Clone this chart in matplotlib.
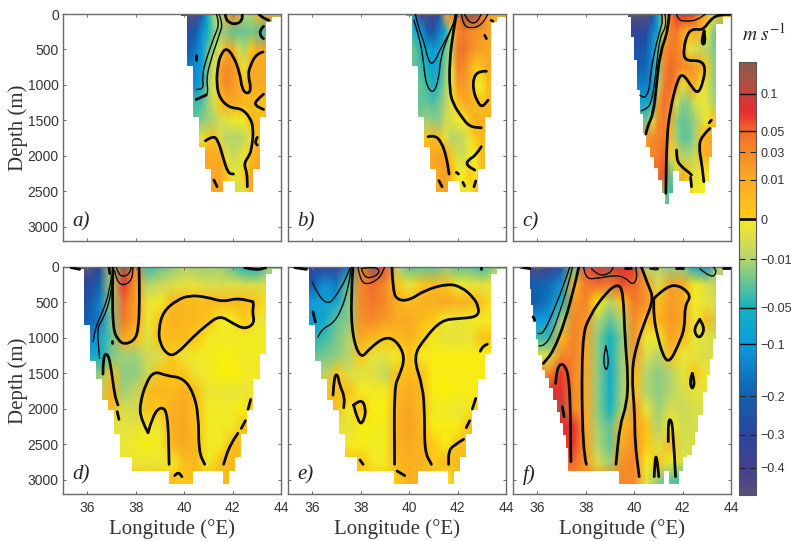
import matplotlib
matplotlib.use('Agg')
import matplotlib.pyplot as plt
import numpy as np
from matplotlib.cm import ScalarMappable
from matplotlib.colors import FuncNorm, LinearSegmentedColormap
from matplotlib.patches import PathPatch, Polygon
from matplotlib.path import Path

plt.rcParams['mathtext.fontset'] = 'stix'

# colour scale, velocities in m/s
cbar_values = [-0.5, -0.4, -0.3, -0.2, -0.1, -0.05, -0.01, 0, 0.01, 0.03, 0.05, 0.1, 0.2]
cbar_pos = [0, 0.0624, 0.1386, 0.2286, 0.3487, 0.4319, 0.545, 0.6374, 0.7275, 0.792, 0.8406, 0.9261, 1]
cmap_stops = [(0, '#5a4f7c'), (0.0624, '#42408f'), (0.1386, '#2b469c'), (0.2286, '#125fae'),
              (0.3487, '#0d9cdc'), (0.4319, '#14b2bf'), (0.545, '#b4d470'), (0.6, '#dfe045'),
              (0.625, '#eee832'), (0.6374, '#fdf000'), (0.6374, '#fdcb16'), (0.7275, '#f9a924'),
              (0.792, '#f58a28'), (0.8406, '#f06a2c'), (0.885, '#e92b30'), (0.9261, '#c8403c'),
              (0.96, '#a65446'), (1, '#8a5a50')]
tick_values = [0.1, 0.05, 0.03, 0.01, 0, -0.01, -0.05, -0.1, -0.2, -0.3, -0.4]
tick_labels = ['0.1', '0.05', '0.03', '0.01', '0', '\u22120.01', '\u22120.05', '\u22120.1',
               '\u22120.2', '\u22120.3', '\u22120.4']
xticks = [36, 38, 40, 42, 44]
yticks = [0, 500, 1000, 1500, 2000, 2500, 3000]

# velocity fields in cm/s, rows are depth, columns are longitude
top_lon = [40, 40.25, 40.5, 40.75, 41, 41.25, 41.5, 41.75, 42, 42.25, 42.5, 42.75, 43, 43.25, 43.5]
top_depth = [0, 250, 500, 750, 1000, 1250, 1500, 1750, 2000, 2250, 2500]
low_lon = [36, 36.5, 37, 37.5, 38, 38.5, 39, 39.5, 40, 40.5, 41, 41.5, 42, 42.5, 43, 43.5]
low_depth = [0, 250, 500, 750, 1000, 1250, 1500, 1750, 2000, 2250, 2500, 2750, 3000]

field_a = [
    [-40, -50, -45, -20, -5, -1, -1, 1, 3, 1, -1, -1, .5, 1, 1],
    [-25, -25, -20, -12, -5, -2, -2, -2, -3, -3, -3, -2.5, -3, -4, -4],
    [-20, -20, -15, -10, -3, -1, -.3, 1, 1, -.5, -1, .1, 1, 1, 1],
    [-15, -15, -12, -9, -2, -.3, 1.5, 3, 2.5, .5, -.2, 1, 1, 1, 1],
    [-15, -12, -12, -6, -1.5, -.3, 1.5, 3, 2, 1, .3, 1, 1, 1, 1],
    [-3, -3, -4, -3.5, -1.5, -.5, .3, 1, 1, 1, .5, .5, .1, .3, .3],
    [-3, -3, -3, -2, -1.5, -1, -.5, -.3, -.2, -.1, -.1, .5, .5, .5, .5],
    [-.3, -.3, -.3, -.3, .1, .3, -.5, -1, -1, -1, -.8, -.2, .5, .5, .5],
    [1, 1, 1, 1, 1, 1, 1, -.3, -.7, -.5, -.1, .3, 1, 1, 1],
    [1, 1, 1, 1, 1, 1, 1, .1, -.2, -.3, .1, 1, 1, 1, 1],
    [1, 1, 1, 1, 1, 1, 1.5, .2, .1, -.5, -.3, 1, 1, 1, 1],
]
field_b = [
    [-3, -15, -40, -45, -40, -25, 2, 3, 4, 15, 20, 15, 5, 1.5, 1],
    [-3, -7, -10, -20, -25, -15, -8, -.5, 3, 4, 3, 2.5, 2, 1.5, 1],
    [-3, -3, -5, -7, -10, -7, -3, -1, 4, 4.5, 3, 2, 1.5, 1, 1],
    [-3, -3, -4, -6, -8, -6, -2, -.3, 3.5, 3, 1, .1, .3, 1, 1],
    [-3, -3, -3, -4, -6, -4, -1.5, -.2, 2, 2, 1, -.1, -.1, .5, .5],
    [-3, -3, -3, -3, -3.5, -2.5, -1, -.3, .2, 1, 1, .5, .2, .5, .5],
    [-2, -2, -2, -1.5, -2, -2, -.7, -.4, -.1, -.1, .2, .8, .8, .8, .8],
    [.1, .1, .1, .1, .5, .3, -.3, -1, -1, -.7, -.2, .1, .5, .5, .5],
    [1, 1, 1, 1, 1, 1.5, 1.5, .1, -.5, -.6, -.1, -.1, .5, .5, .5],
    [1, 1, 1, 1, 1, 1, 1.5, .5, -.1, -.1, .1, -.1, .5, .5, .5],
    [1, 1, 1, 1, 1, 1, 1.5, .5, -.1, -.2, -.1, .3, .5, .5, .5],
]
field_c = [
    [-50, -50, -50, -30, -8, -1, 3, 7, 9, 8, 6, 3, 1.5, -.2, .5],
    [-35, -30, -30, -15, -7, .3, 3.5, 4, 1.5, .5, 1, .5, -.1, -2, -3],
    [-25, -25, -20, -12, -3, 2.5, 4, 3.5, 2, -.3, -.5, -.7, -1, -2, -3],
    [-20, -20, -18, -12, -2, 3, 5, 4, 3, 3, 2, 1.5, .1, -1.5, -2],
    [-15, -15, -15, -11, -1, 4, 5, 2, -.3, .5, 1, -.1, -.5, -1.5, -2],
    [-8, -8, -8, -5, 2, 4.5, 3, -.5, -2, -2, -.5, -.3, -.3, -1, -1],
    [-3, -3, -3, -.5, 3, 4, 1, -2, -3, -2.5, -1.5, -.7, -.1, .2, .2],
    [1.5, 1.5, 1.5, 3, 3.5, 4, .5, -1.5, -3, -3, -1.5, .3, 1, 1, 1],
    [3, 3, 3, 3, 4, 5, -.5, .2, -1, -1, -.7, .5, 1, 1, 1],
    [5, 5, 5, 5, 5, 6, -3, -.5, .7, .2, -.5, -.1, -.1, -.1, -.1],
    [7, 7, 7, 7, 7, -2, -4, -4, 1, .2, -.1, -.1, -.1, -.1, -.1],
]
field_d = [
    [-50, -30, -1, 20, 3, -4, -3, -2, -1, -1.5, -1.5, -1.5, -3, -5, -7, -2],
    [-30, -20, -1, 7, 2, -1, -.7, -.5, -.3, -.3, -.5, -.5, -.4, -.5, -.5, -.5],
    [-25, -15, -2, 5, 1.5, -.2, -.1, .5, .6, .5, .5, .5, .5, .5, .1, -.1],
    [-20, -15, -2.5, 4, 1.5, -.2, .2, .8, .6, .5, .2, -.1, -.1, .1, -.2, -.2],
    [-15, -9, -3, 1, .3, -.4, .3, .5, .5, .1, -.1, -.1, -.1, -.1, -.1, -.1],
    [-7, -7, -2.5, -1.5, -1.5, -.6, -.5, .1, -.2, -.1, -.1, -.05, -.05, -.1, -.1, -.1],
    [-2, -2, .3, -2, -2, -.7, .2, .3, .1, -.2, -.1, -.02, -.02, -.1, -.1, -.1],
    [-1, -1, .8, -1.5, -.8, .4, .6, .5, .8, .3, -.2, -.2, -.2, -.2, -.2, -.2],
    [.5, .5, .5, -.5, -.6, .3, .1, .8, 1, .2, -.1, -.1, -.1, -.03, .3, .3],
    [-.3, -.3, -.3, -.3, -.3, -.1, -.2, .8, 1.2, .3, -.1, -.1, -.1, .3, .3, .3],
    [-.2, -.2, -.2, -.2, -.1, -.05, -.1, .6, 1, .5, -.1, -.1, .5, .3, .3, .3],
    [-.2, -.2, -.2, -.2, -.2, -.2, -.2, -.1, .4, .5, -.1, .3, .5, .5, .5, .5],
    [.3, .3, .3, .3, .3, .3, .3, .3, .1, .4, .4, .5, .5, .5, .5, .5],
]
field_e = [
    [-30, -30, -35, -15, 3, 20, 6, -1, -3, -3, -3, -2, -3, -3, -4, -2],
    [-20, -12, -15, -3, 3, 5, 3, .2, -.2, .1, .5, .3, -.1, -.2, -.3, -.3],
    [-9, -9, -8, -2, 3, 4, 3, .8, .4, .8, .8, 1, .8, .6, .2, -.1],
    [-10, -7, -3, -2, 2.5, 3, 2, 1, 1, .5, .1, -.1, -.2, -.1, -.1, -.1],
    [-5, -4, -2.5, -1, 1, .5, .1, .5, .8, .1, -.1, -.3, -.3, -.2, .2, .1],
    [-3, -2.5, -2, -1, .1, -.3, -.3, -.1, .2, -.1, -.05, -.05, -.05, -.05, -.05, -.05],
    [-1, -1, .1, -.5, -.3, -.4, -.8, .3, .5, .3, -.05, -.05, -.05, -.05, -.05, -.05],
    [.2, .2, .3, .3, -.1, -.1, -.1, .5, .9, .5, -.05, -.02, -.05, -.05, -.05, -.05],
    [.5, .5, .5, -.1, .3, -.05, -.05, .8, 1.2, .5, -.1, -.1, -.2, -.1, .3, .3],
    [-.3, -.3, -.3, -.3, -.05, -.05, -.1, .8, 1.5, .6, -.05, -.05, -.05, .3, .3, .3],
    [-.1, -.1, -.1, -.1, -.05, -.1, -.1, .8, 1, .6, .1, -.05, .3, .3, .3, .3],
    [.3, .3, .3, .3, .3, -.1, -.1, .5, .8, .8, .1, .5, .5, .5, .5, .5],
    [.1, .1, .1, .1, .1, .1, .1, .1, .8, .5, .5, -.05, .5, .5, .5, .5],
]
field_f = [
    [-45, -40, -25, -3, 6, 10, 15, 8, 7, -1, -1, -2, -2, -8, -12, -1],
    [-20, -18, -12, .5, 4, 5, 4, 6, 5, 2, -.5, 1.5, 1, -.1, -.5, -1],
    [-20, -15, -5, 2, 3.5, 0, -1, .1, 4, 2.5, .3, 2, 1, -.1, -.3, -.5],
    [-10, -10, -1.5, 3, 2.5, -1, -3, -1, 3, .5, .7, 2, 1.2, -.2, .5, -1],
    [-4, -4, .5, 3.5, 1.5, -2, -5, -2, 2.5, -.2, -.1, 1.5, .5, -.2, -.4, -.7],
    [-.5, -.5, 3, 3.5, 1, -2, -6, -1.5, 2, -.5, -1, .3, -.2, -.3, -.5, -.5],
    [3, 3, 7, 3, 1, -2, -7, -1.5, .5, -1, -2, -1, -.3, .2, -.2, -.2],
    [8, 8, 8, 3, 1, -2, -6, -1.5, .3, -1, -2, -1, -.5, -.3, -.3, -.3],
    [12, 12, 12, 3, 1, -2, -5, -1, 2, -.3, -1.5, -.5, -.7, -.5, -.5, -.5],
    [8, 8, 8, 8, 1, -1.5, -3, .5, 2, .2, -1, -.1, -.6, -.5, -.5, -.5],
    [7, 7, 7, 7, 1.5, -1, -3, 1, 2.5, .1, -.5, .5, -.5, -.5, -.5, -.5],
    [5, 5, 5, 5, 2, -.5, -1.5, 2.5, 3, -.1, .1, -.2, -.5, -.5, -.5, -.5],
    [3, 3, 3, 3, 3, 3, 3, 3, 3, -.3, -2, -3, -4, -4, -4, -4],
]

# sea floor staircase: column edges (lon) and bottom depth of each column (m)
floor_ab_lon = [39.88, 40.13, 40.38, 40.63, 40.88, 41.12, 41.62, 42.11, 42.86, 43.12, 43.37, 43.62, 44.0]
floor_ab_depth = [30, 736, 1450, 1871, 2180, 2510, 2350, 2510, 2180, 1450, 110, 40]
floor_c_lon = [39.75, 39.87, 39.98, 40.11, 40.23, 40.35, 40.48, 40.64, 40.81, 40.97, 41.14, 41.27, 41.44,
               41.61, 41.85, 42.29, 42.94, 43.09, 43.20, 43.37, 43.67, 44.0]
floor_c_depth = [42, 324, 652, 1074, 1403, 1684, 1871, 2012, 2176, 2340, 2518, 2678, 2518, 2209, 2350,
                 2518, 2350, 2012, 1590, 136, 42]
floor_de_lon = [35.28, 35.88, 36.13, 36.38, 36.62, 36.87, 37.12, 37.37, 37.86, 39.36, 40.37, 41.62, 41.87,
                42.11, 42.36, 42.61, 42.86, 43.12, 43.37, 43.61, 44.0]
floor_de_depth = [33, 821, 1327, 1580, 1876, 2021, 2359, 2678, 2870, 3053, 2870, 3053, 2870, 2678, 2359,
                  2021, 1580, 1233, 94, 25]
floor_f_lon = [35.28, 35.70, 35.75, 35.83, 35.94, 36.05, 36.18, 36.31, 36.49, 36.66, 36.82, 36.96, 37.07,
               37.18, 37.28, 39.37, 41.25, 41.45, 41.87, 42.03, 42.19, 42.37, 42.51, 42.64, 42.85, 42.99,
               43.13, 43.26, 43.37, 43.68, 44.0]
floor_f_depth = [33, 305, 539, 774, 1008, 1243, 1454, 1571, 1712, 1876, 2040, 2204, 2368, 2556, 2870, 3053,
                 2870, 3053, 2870, 2683, 2650, 2509, 2322, 2087, 1759, 1524, 1290, 1008, 117, 47]

# contour lines as (lon, depth) pairs
thick_a = [
    [(41.70, 0), (41.71, 66), (41.88, 127), (42.16, 145), (42.40, 89), (42.40, 0)],
    [(43.08, 0), (43.19, 42), (43.50, 89)],
    [(43.28, 174), (43.12, 230), (43.16, 314), (43.28, 347)],
    [(43.26, 535), (42.98, 558), (42.71, 746), (42.64, 863), (42.77, 1051), (42.64, 1130), (42.40, 1074),
     (42.29, 816), (42.02, 582), (41.74, 478), (41.54, 558), (41.40, 699), (41.33, 980), (41.47, 1191),
     (41.88, 1323), (42.36, 1332), (42.71, 1449), (42.87, 1613), (42.80, 1871), (42.71, 1989), (42.46, 2106),
     (42.60, 2247), (42.61, 2434)],
    [(43.28, 1130), (42.98, 1215), (42.91, 1285), (43.28, 1346)],
    [(43.02, 1740), (42.91, 1801), (43.02, 1848)],
    [(40.88, 1787), (41.19, 1716), (41.40, 1778), (41.60, 2012), (41.81, 2247), (42.04, 2256)],
    [(41.23, 2340), (41.36, 2434)],
    [(40.50, 1205), (40.92, 1140)],
    [(40.5, 582), (40.5, 642)],
]
thin_a = [
    [(41.33, 0), (41.47, 136), (41.26, 300), (40.85, 699), (40.75, 887), (40.81, 1051), (40.50, 1065)],
    [(41.44, 0), (41.60, 136), (41.47, 277), (41.05, 699), (40.92, 933), (40.99, 1074), (40.92, 1140)],
]
thick_b = [
    [(41.95, 0), (41.81, 277), (41.67, 652), (41.67, 1074), (41.81, 1262), (42.16, 1449), (42.50, 1590),
     (42.98, 1604)],
    [(43.19, 807), (42.91, 802), (42.66, 887), (42.64, 1074), (42.82, 1238), (43.01, 1318), (43.26, 1215)],
    [(43.12, 300), (43.19, 347)],
    [(43.39, 89), (43.46, 103)],
    [(40.78, 1730), (41.05, 1707), (41.33, 1801), (41.54, 2012), (41.65, 2256)],
    [(42.98, 1871), (42.77, 1989), (42.43, 2059), (42.36, 2129), (42.71, 2200)],
    [(41.95, 2232), (42.04, 2256)],
    [(41.23, 2350), (41.36, 2434)],
    [(42.22, 2373), (42.29, 2425)],
    [(42.75, 2354), (42.68, 2434)],
]
thin_b = [
    [(40.26, 0), (40.37, 183), (40.64, 417), (40.78, 652), (40.99, 722), (41.33, 464), (41.81, 183), (41.91, 0)],
    [(40.20, 89), (40.37, 277), (40.53, 511), (40.61, 746), (40.71, 1004), (40.99, 1130), (41.22, 933),
     (41.30, 605), (41.60, 324), (41.88, 89)],
    [(42.16, 0), (42.22, 159), (42.57, 206), (42.98, 159), (43.26, 0)],
    [(42.29, 0), (42.43, 113), (42.77, 136), (42.98, 0)],
]
thick_c = [
    [(41.45, 0), (41.41, 230), (41.06, 558), (40.92, 1027), (40.79, 1402), (40.58, 1566), (40.48, 1693)],
    [(43.98, 5), (43.47, 5), (43.13, 89), (42.83, 230), (42.47, 206), (42.20, 267), (42.03, 511), (42.10, 661),
     (42.72, 652), (42.95, 746), (42.85, 957), (42.65, 1121), (42.42, 1051), (42.03, 840), (41.80, 910),
     (41.48, 1355), (41.34, 1777), (41.31, 2528)],
    [(42.89, 239), (42.79, 347), (42.83, 441), (42.94, 394), (42.89, 239)],
    [(43.13, 1613), (42.79, 1721), (42.67, 1871), (42.79, 2106), (42.88, 2364)],
    [(43.19, 1496), (43.10, 1534)],
    [(41.75, 1918), (41.75, 2059), (41.96, 2153), (42.23, 2223), (42.37, 2270)],
    [(42.33, 2303), (42.37, 2434)],
]
thin_c = [
    [(41.13, 0), (41.20, 89), (41.06, 230), (40.79, 605), (40.65, 933), (40.62, 1074), (40.44, 1191), (40.24, 1145)],
    [(41.27, 0), (41.36, 159), (41.06, 324), (40.92, 746), (40.81, 1074), (40.65, 1309), (40.30, 1365)],
    [(41.75, 0), (41.82, 89), (42.16, 103), (42.58, 89), (42.95, 0)],
]
thick_d = [
    [(37.06, 0), (37.04, 305), (37.06, 868), (37.27, 1032), (37.55, 1093), (37.96, 1032), (38.12, 868),
     (38.16, 445), (38.14, 0)],
    [(36.90, 0), (36.93, 94)],
    [(37.02, 1045), (37.02, 1065)],
    [(35.34, 9), (35.69, 33)],
    [(42.50, 9), (42.98, 47), (43.37, 9)],
    [(42.84, 492), (42.29, 431), (41.60, 492), (40.92, 422), (40.23, 399), (39.68, 469), (39.13, 633), (38.95, 868),
     (38.99, 1079), (39.33, 1243), (39.68, 1233), (40.37, 985), (40.92, 821), (41.47, 680), (42.02, 797),
     (42.50, 877), (42.91, 797), (42.82, 633), (42.87, 539), (42.84, 492)],
    [(36.65, 1510), (36.65, 1243), (36.86, 1219), (36.99, 1430), (37.13, 1806), (37.27, 1946)],
    [(37.24, 2040), (37.31, 2148)],
    [(38.51, 2336), (38.23, 2157), (38.16, 1946), (38.44, 1618), (38.78, 1468), (39.27, 1534), (39.95, 1562),
     (40.37, 1759), (40.60, 2087), (40.60, 2603), (40.85, 2781)],
    [(38.51, 2336), (38.71, 2087), (39.06, 1960), (39.33, 2063), (39.38, 2781)],
    [(39.61, 2941), (39.75, 2884), (39.91, 2955)],
    [(42.75, 1867), (42.64, 2007)],
    [(42.53, 2167), (42.36, 2275)],
    [(42.22, 2345), (41.88, 2509), (41.63, 2781)],
]
thin_d = [
    [(37.13, 47), (37.20, 188), (37.48, 268), (37.85, 188), (37.89, 0)],
    [(37.20, 0), (37.27, 94), (37.48, 141), (37.75, 94), (37.82, 0)],
    [(37.00, 117), (36.93, 352), (36.58, 680), (36.35, 844), (36.24, 1055)],
    [(37.04, 164), (37.00, 399), (36.65, 750), (36.40, 844), (36.51, 1290)],
]
thick_e = [
    [(37.68, 0), (37.59, 445), (37.66, 985), (38.00, 1299), (38.37, 1149), (38.99, 985), (39.47, 1032), (39.84, 1266),
     (39.61, 1524), (39.38, 1688), (39.40, 2781)],
    [(39.29, 0), (39.33, 352), (39.54, 469), (40.02, 469), (40.64, 328), (41.60, 234), (42.16, 281), (42.64, 422),
     (42.88, 563), (42.84, 704), (42.02, 727), (41.33, 750), (40.64, 1008), (40.16, 1266), (40.57, 1688),
     (40.64, 2087), (40.64, 2603), (40.92, 2781)],
    [(36.03, 633), (36.13, 774)],
    [(36.86, 1806), (36.90, 1548), (37.04, 1501), (37.13, 1665), (37.34, 1829), (37.30, 1984)],
    [(37.71, 1946), (38.03, 1853), (38.21, 1993), (38.16, 2134), (38.00, 2228), (37.82, 2087), (37.71, 1946)],
    [(37.97, 2720), (38.10, 2781)],
    [(39.50, 2875), (39.82, 2941)],
    [(42.94, 1187), (43.01, 1126), (43.23, 1088)],
    [(42.75, 1853), (42.61, 2003)],
    [(42.50, 2167), (42.36, 2265)],
    [(42.25, 2429), (41.81, 2519), (41.63, 2603), (41.63, 2781)],
    [(42.98, 0), (42.98, 33)],
    [(35.28, 9), (35.76, 33)],
]
thin_e = [
    [(37.89, 0), (37.96, 164), (38.23, 258), (38.78, 164), (38.99, 0)],
    [(38.03, 23), (38.10, 117), (38.37, 164), (38.78, 94), (38.71, 9), (38.30, 9), (38.03, 23)],
    [(36.00, 211), (36.51, 610), (37.20, 305), (37.55, 23)],
    [(36.24, 985), (36.38, 877), (36.86, 797), (37.20, 610), (37.48, 305), (37.61, 0)],
]
thick_f = [
    [(37.72, 0), (37.55, 258), (37.14, 774), (36.66, 1196), (36.25, 1360)],
    [(40.30, 0), (40.58, 258), (40.81, 446), (40.44, 774), (40.10, 1102), (39.89, 1477), (40.03, 2087), (40.03, 2462),
     (40.21, 2955)],
    [(38.03, 2781), (37.87, 2603), (37.83, 1008), (38.17, 680), (38.86, 352), (39.34, 234), (39.55, 352), (39.62, 1008),
     (39.76, 1571), (39.69, 1946), (39.41, 2228), (39.25, 2781)],
    [(40.81, 446), (41.34, 267), (41.89, 258), (42.37, 408), (42.09, 539), (42.09, 868), (41.82, 1102), (41.47, 1346),
     (41.20, 1266), (40.92, 915), (40.81, 680), (40.81, 446)],
    [(42.71, 741), (42.92, 844), (42.78, 985), (42.58, 985), (42.47, 868), (42.71, 741)],
    [(36.76, 1642), (36.80, 1430), (37.07, 1337), (37.35, 1571), (37.39, 2744)],
    [(37.04, 1970), (37.11, 2111)],
    [(42.40, 1501), (42.51, 1618), (42.40, 1735), (42.30, 1618), (42.40, 1501)],
    [(41.71, 2955), (41.61, 2275), (41.50, 2134), (41.41, 2181), (41.41, 2462)],
    [(40.83, 2955), (40.86, 2697), (40.93, 2664), (41.02, 2955)],
    [(41.75, 9), (42.03, 9)],
    [(35.43, 9), (35.70, 23)],
    [(43.68, 9), (43.95, 9)],
    [(39.62, 9), (39.89, 9)],
    [(35.83, 703), (35.90, 750)],
]
thin_f = [
    [(37.35, 0), (37.14, 211), (36.66, 633), (36.25, 938), (36.04, 938)],
    [(37.46, 0), (37.28, 258), (36.93, 633), (36.59, 961), (36.31, 1102), (36.08, 1112)],
    [(37.92, 0), (37.97, 164), (38.45, 164), (39.14, 117), (39.62, 141), (39.94, 258), (40.13, 164), (40.07, 0)],
    [(38.24, 23), (38.52, 127), (39.00, 94), (39.14, 0)],
    [(38.83, 1112), (38.97, 1290), (38.86, 1487), (38.72, 1337), (38.83, 1112)],
    [(40.65, 23), (40.86, 47), (41.06, 23), (40.86, 9), (40.65, 23)],
    [(42.71, 23), (43.20, 164), (43.42, 70), (43.28, 0)],
]

panels = [
    ('a)', field_a, top_lon, top_depth, floor_ab_lon, floor_ab_depth, thick_a, thin_a),
    ('b)', field_b, top_lon, top_depth, floor_ab_lon, floor_ab_depth, thick_b, thin_b),
    ('c)', field_c, top_lon, top_depth, floor_c_lon, floor_c_depth, thick_c, thin_c),
    ('d)', field_d, low_lon, low_depth, floor_de_lon, floor_de_depth, thick_d, thin_d),
    ('e)', field_e, low_lon, low_depth, floor_de_lon, floor_de_depth, thick_e, thin_e),
    ('f)', field_f, low_lon, low_depth, floor_f_lon, floor_f_depth, thick_f, thin_f),
]

W, H = 791, 541
LEFTS = [63, 288, 513]
WIDTH = 218
TOPS = [14, 267]
HEIGHT = 227
SPINE = '#6a6a6a'
TEXT = '#333333'
SERIF = 'Liberation Serif'
SANS = 'Liberation Sans'


def to_pos(v):
    return np.interp(v, cbar_values, cbar_pos)


def to_value(p):
    return np.interp(p, cbar_pos, cbar_values)


norm = FuncNorm((to_pos, to_value), vmin=cbar_values[0], vmax=cbar_values[-1])
cmap = LinearSegmentedColormap.from_list('velocity', cmap_stops, N=1024)


def add_line(ax, pts, lw):
    # quadratic curve through the midpoints so the read-off lines are not angular
    pts = np.array(pts, dtype=float)
    verts = [pts[0]]
    codes = [Path.MOVETO]
    for i in range(1, len(pts) - 1):
        verts += [pts[i], (pts[i] + pts[i + 1]) / 2]
        codes += [Path.CURVE3, Path.CURVE3]
    verts.append(pts[-1])
    codes.append(Path.LINETO)
    ax.add_patch(PathPatch(Path(verts, codes), fill=False, ec='#0a0a0a', lw=lw, capstyle='round',
                           joinstyle='round', zorder=3))


def floor_outline(lons, depths):
    verts = [(lons[0], 0)]
    for i, d in enumerate(depths):
        verts += [(lons[i], d), (lons[i + 1], d)]
    verts.append((lons[-1], 0))
    return verts


def draw_panel(ax, name, field, lons, depths, floor_lon, floor_depth, thick, thin):
    field = np.pad(np.array(field, dtype=float), ((0, 1), (1, 1)), mode='edge') / 100
    x = np.array([35] + lons + [44])
    y = np.array(depths + [3200])
    mesh = ax.pcolormesh(x, y, field, cmap=cmap, norm=norm, shading='gouraud', zorder=1)
    mesh.set_clip_path(Polygon(floor_outline(floor_lon, floor_depth), transform=ax.transData))
    for pts in thin:
        add_line(ax, pts, 1.0)
    for pts in thick:
        add_line(ax, pts, 2.0)
    ax.set_xlim(35, 44)
    ax.set_ylim(3200, 0)
    ax.set_xticks(xticks)
    ax.set_yticks(yticks)
    ax.tick_params(direction='in', length=2, width=0.7, color=SPINE, top=True, right=True,
                   labelcolor=TEXT, labelsize=10, pad=3)
    ax.tick_params(axis='x', pad=5)
    for lab in ax.get_xticklabels() + ax.get_yticklabels():
        lab.set_family(SANS)
    for s in ax.spines.values():
        s.set_color(SPINE)
        s.set_linewidth(1.0)
    ax.text(35.4, 2935, name, family=SERIF, style='italic', size=15, color='#222222', va='center')


fig = plt.figure(figsize=(W / 100, H / 100), dpi=100)
for i, p in enumerate(panels):
    col, row = i % 3, i // 3
    ax = fig.add_axes([LEFTS[col] / W, 1 - (TOPS[row] + HEIGHT) / H, WIDTH / W, HEIGHT / H])
    draw_panel(ax, *p)
    if row == 0:
        ax.tick_params(labelbottom=False)
    else:
        ax.set_xlabel('Longitude (\u00b0E)', family=SERIF, size=15, color=TEXT, labelpad=3)
    if col == 0:
        ax.set_ylabel('Depth (m)', family=SERIF, size=15, color=TEXT, labelpad=0)
    else:
        ax.tick_params(labelleft=False)

cax = fig.add_axes([739 / W, 1 - 495 / H, 17 / W, 433 / H])
cb = fig.colorbar(ScalarMappable(norm=norm, cmap=cmap), cax=cax)
cb.set_ticks(tick_values)
cb.set_ticklabels(tick_labels)
cax.minorticks_off()
cax.tick_params(direction='in', length=4.5, width=0.8, color='#222222', left=True, right=True,
                labelcolor=TEXT, labelsize=9, pad=3)
for lab in cax.get_yticklabels():
    lab.set_family(SANS)
for v in [0.1, 0.05, -0.05, -0.1]:
    cax.axhline(v, color='#111111', lw=1.0)
cax.axhline(0, color='#111111', lw=2.0)
cb.outline.set_edgecolor('#555555')
cb.outline.set_linewidth(0.8)
fig.text(764 / W, 1 - 34 / H, r'$m\ s^{-\mathit{1}}$', size=14, color='#222222', ha='center', va='center')

fig.savefig('out.png', dpi=100)
